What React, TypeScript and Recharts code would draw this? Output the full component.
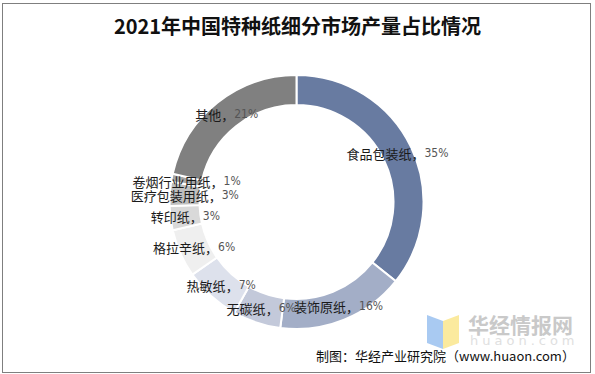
import React from 'react';
import { PieChart, Pie, Cell } from 'recharts';

// 细分品类与占比（%）
const categories = ['食品包装纸', '装饰原纸', '无碳纸', '热敏纸', '格拉辛纸', '转印纸', '医疗包装用纸', '卷烟行业用纸', '其他'];
const shares = [35, 16, 6, 7, 6, 3, 3, 1, 21];
const colors = ['#687BA1', '#A3AEC7', '#C3C9DA', '#DDE1EC', '#EFEFEF', '#D9D9D9', '#BFBFBF', '#A6A6A6', '#808080'];

const data = categories.map((name, i) => ({ name, value: shares[i] }));

const RAD = Math.PI / 180;
const CJK = '"Noto Sans CJK SC", "Noto Sans", sans-serif';

const renderLabel = (props: any) => {
  const { cx, cy, midAngle, innerRadius, outerRadius, name, value } = props;
  const r = (innerRadius + outerRadius) / 2;
  const x = cx + r * Math.cos(-midAngle * RAD);
  const y = cy + r * Math.sin(-midAngle * RAD);
  return (
    <text x={x} y={y} textAnchor="middle" dominantBaseline="central" fontSize={13} fontFamily={CJK}>
      <tspan fill="#1a1a1a">{name}，</tspan>
      <tspan fill="#555" fontFamily='"Liberation Sans Narrow", "DejaVu Sans Condensed", sans-serif' fontSize={12}>{value}%</tspan>
    </text>
  );
};

const App: React.FC = () => {
  return (
    <div style={{ position: 'absolute', left: 0, top: 0, width: 595, height: 374, background: '#fff', fontFamily: CJK }}>
      <style>{'body{margin:0}'}</style>
      <div style={{ position: 'absolute', left: 2, top: 3, width: 587, height: 368, border: '1px solid #7f7f7f' }} />
      <div style={{ position: 'absolute', left: 0, top: 11, width: 595, textAlign: 'center', fontSize: 20, fontWeight: 700, color: '#111' }}>
        2021年中国特种纸细分市场产量占比情况
      </div>
      <div style={{ position: 'absolute', left: 0, top: 0 }}>
        <PieChart width={595} height={374} margin={{ top: 0, right: 0, bottom: 0, left: 0 }}>
          <Pie
            data={data}
            dataKey="value"
            nameKey="name"
            cx={296.5}
            cy={202}
            innerRadius={97}
            outerRadius={127}
            startAngle={90}
            endAngle={-270}
            stroke="#fff"
            strokeWidth={2}
            label={renderLabel}
            labelLine={false}
            isAnimationActive={false}
          >
            {data.map((d, i) => (
              <Cell key={d.name} fill={colors[i]} />
            ))}
          </Pie>
        </PieChart>
      </div>
      {/* 水印 */}
      <svg style={{ position: 'absolute', left: 425, top: 311 }} width={40} height={40}>
        <polygon points="2,4 18,10 18,38 2,32" fill="#A9CAF2" />
        <polygon points="18,10 34,4 34,32 18,38" fill="#FBEA9E" />
      </svg>
      <div style={{ position: 'absolute', left: 468, top: 309, fontSize: 21, fontWeight: 700, color: '#c9c9c9' }}>
        华经情报网
      </div>
      <div style={{ position: 'absolute', left: 470, top: 333, fontSize: 13, color: '#e0e0e0', letterSpacing: 4, fontFamily: '"DejaVu Sans", sans-serif' }}>
        huaon.com
      </div>
      <div style={{ position: 'absolute', left: 316, top: 346, fontSize: 13, color: '#111' }}>
        制图：华经产业研究院（www.huaon.com）
      </div>
    </div>
  );
};

export default App;
